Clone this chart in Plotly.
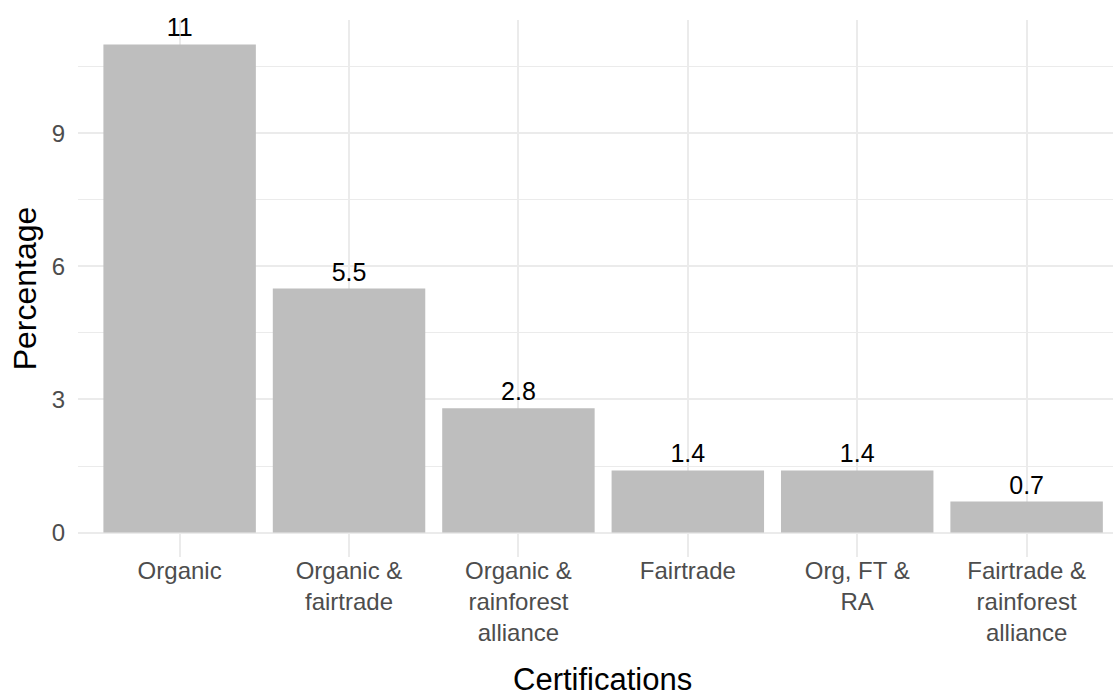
import plotly.graph_objects as go

categories = ["Organic", "Organic &<br>fairtrade", "Organic &<br>rainforest<br>alliance",
              "Fairtrade", "Org, FT &<br>RA", "Fairtrade &<br>rainforest<br>alliance"]
percentages = [11, 5.5, 2.8, 1.4, 1.4, 0.7]
value_labels = ["11", "5.5", "2.8", "1.4", "1.4", "0.7"]
y_ticks = [0, 3, 6, 9]

FONT = "Liberation Sans, Arial, sans-serif"

fig = go.Figure(go.Bar(
    x=categories,
    y=percentages,
    text=value_labels,
    textposition="outside",
    textfont=dict(family=FONT, size=25, color="black"),
    marker=dict(color="#BEBEBE", line=dict(width=0)),
    cliponaxis=False,
    hoverinfo="skip",
))

fig.update_layout(
    width=1113, height=698,
    margin=dict(l=78, r=0, t=20, b=140.5, autoexpand=False),
    paper_bgcolor="white", plot_bgcolor="white",
    bargap=0.1,
    showlegend=False,
    font=dict(family=FONT),
)

fig.add_annotation(
    text="Certifications", xref="paper", yref="paper",
    x=0.5068, y=-0.2279, xanchor="center", yanchor="middle",
    showarrow=False, font=dict(family=FONT, size=31, color="black"),
)

fig.update_xaxes(
    type="category",
    range=[-0.6, 5.51],
    showgrid=True, gridcolor="#EBEBEB", gridwidth=1.5,
    zeroline=False, showline=False,
    ticks="", ticklabelstandoff=-3,
    tickfont=dict(family=FONT, size=24, color="#4D4D4D"),
    automargin=False,
)

fig.update_yaxes(
    range=[-0.55, 11.55],
    tickvals=y_ticks,
    showgrid=True, gridcolor="#EBEBEB", gridwidth=1.5,
    minor=dict(tickvals=[1.5, 4.5, 7.5, 10.5], showgrid=True, gridcolor="#EBEBEB", gridwidth=0.75),
    zeroline=False, showline=False,
    ticks="", ticklabelstandoff=12,
    tickfont=dict(family=FONT, size=24, color="#4D4D4D"),
    title=dict(text="Percentage", font=dict(family=FONT, size=32, color="black"), standoff=5),
    automargin=False,
)

fig.write_html(
    "out.html",
    config={"displayModeBar": False},
    post_script="document.body.style.margin='0';document.body.style.overflow='hidden';",
)
